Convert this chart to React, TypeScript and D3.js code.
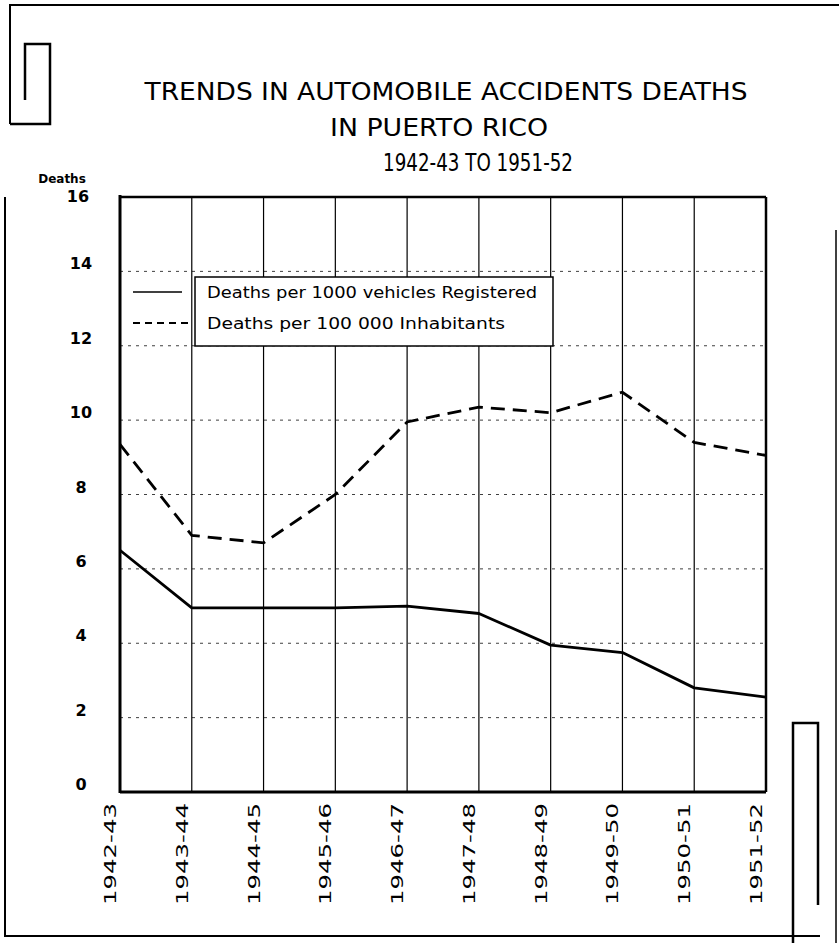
import React from 'react';
import * as d3 from 'd3';

// chart values
const years = ['1942-43', '1943-44', '1944-45', '1945-46', '1946-47', '1947-48', '1948-49', '1949-50', '1950-51', '1951-52'];
const perVehicles = [6.5, 4.95, 4.95, 4.95, 5.0, 4.8, 3.95, 3.75, 2.8, 2.55];
const perInhabitants = [9.35, 6.9, 6.7, 8.0, 9.95, 10.35, 10.2, 10.75, 9.4, 9.05];
const yTicks = [0, 2, 4, 6, 8, 10, 12, 14, 16];
const titleLines = ['TRENDS IN AUTOMOBILE ACCIDENTS DEATHS', 'IN PUERTO RICO', '1942-43 TO 1951-52'];
const legendLabels = ['Deaths per 1000 vehicles Registered', 'Deaths per 100 000 Inhabitants'];

const W = 839;
const H = 943;

const App = () => {
  const left = 120, right = 766, top = 197, bottom = 792;

  const x = d3.scalePoint<string>().domain(years).range([left, right]);
  const y = d3.scaleLinear().domain([0, 16]).range([bottom, top]);

  const line = d3.line<number>()
    .x((d, i) => x(years[i]) as number)
    .y(d => y(d));

  const font = "'DejaVu Sans', sans-serif";

  return (
    <svg width={W} height={H} style={{ position: 'absolute', left: 0, top: 0, background: '#fff' }}>
      {/* page frame */}
      <g fill="none" stroke="#000">
        <path d="M10,124 V5 H839" strokeWidth={2} />
        <path d="M10,124 H50 V44 H25 V100" strokeWidth={2.5} />
        <path d="M5,197 V936 H820" strokeWidth={2} />
        <path d="M836,230 V943" strokeWidth={1.5} />
        <path d="M793,943 V723 H818 V905" strokeWidth={2.5} />
      </g>

      {/* title */}
      <g fontFamily={font} fill="#000" textAnchor="middle">
        <text x={446} y={100} fontSize={25} textLength={603} lengthAdjust="spacingAndGlyphs">{titleLines[0]}</text>
        <text x={439} y={136} fontSize={24} textLength={218} lengthAdjust="spacingAndGlyphs">{titleLines[1]}</text>
        <text x={478} y={171} fontSize={25} textLength={190} lengthAdjust="spacingAndGlyphs">{titleLines[2]}</text>
      </g>

      {/* horizontal grid */}
      <g stroke="#000" strokeWidth={1}>
        {yTicks.filter(t => t > 0 && t < 16).map(t => (
          <line key={t} x1={left} x2={right} y1={y(t)} y2={y(t)} strokeDasharray="3,5" opacity={0.75} />
        ))}
        {/* vertical grid */}
        {years.slice(1, -1).map(yr => (
          <line key={yr} x1={x(yr)} x2={x(yr)} y1={top} y2={bottom} strokeWidth={1.2} />
        ))}
      </g>

      {/* plot frame */}
      <g fill="none" stroke="#000">
        <line x1={left} x2={left} y1={top - 2} y2={bottom + 1} strokeWidth={3} />
        <line x1={left} x2={right} y1={bottom} y2={bottom} strokeWidth={3} />
        <line x1={left} x2={right} y1={top} y2={top} strokeWidth={2.5} />
        <line x1={right} x2={right} y1={top} y2={bottom} strokeWidth={2.5} />
      </g>

      {/* y axis labels */}
      <g fontFamily={font} fontWeight="bold" fontSize={16} textAnchor="middle" fill="#000">
        <text x={62} y={183} fontSize={12}>Deaths</text>
        {yTicks.map(t => (
          <text key={t} x={t === 16 ? 78 : 81} y={t === 16 ? y(t) + 5 : y(t) - 2}>{t}</text>
        ))}
      </g>

      {/* x axis labels */}
      <g fontFamily={font} fontSize={16} fill="#000">
        {years.map(yr => {
          const cx = (x(yr) as number) - 4;
          return (
            <text key={yr} transform={`translate(${cx},905) rotate(-90)`} textLength={102} lengthAdjust="spacingAndGlyphs">
              {yr}
            </text>
          );
        })}
      </g>

      {/* data lines */}
      <path d={line(perVehicles) || ''} fill="none" stroke="#000" strokeWidth={2.8} strokeLinejoin="round" />
      <path d={line(perInhabitants) || ''} fill="none" stroke="#000" strokeWidth={2.8} strokeDasharray="14,8" />

      {/* legend */}
      <rect x={195} y={277} width={358} height={69} fill="#fff" stroke="#000" strokeWidth={1.5} />
      <line x1={left + 13} x2={182} y1={292} y2={292} stroke="#000" strokeWidth={1.5} />
      <line x1={left + 13} x2={188} y1={323} y2={323} stroke="#000" strokeWidth={2} strokeDasharray="7,5" />
      <g fontFamily={font} fontSize={15} fill="#000">
        <text x={207} y={298} textLength={330} lengthAdjust="spacingAndGlyphs">{legendLabels[0]}</text>
        <text x={207} y={329} textLength={298} lengthAdjust="spacingAndGlyphs">{legendLabels[1]}</text>
      </g>
    </svg>
  );
};

export default App;
